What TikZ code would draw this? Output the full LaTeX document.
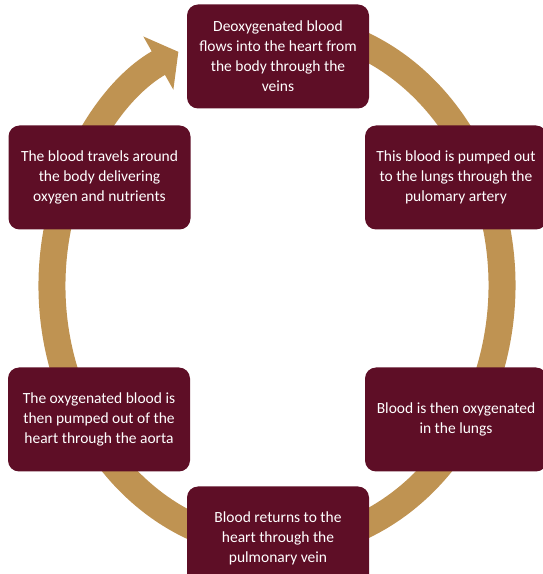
\documentclass[tikz,border=0pt]{standalone}
\usepackage{fontspec}
\setmainfont{Carlito}
\usetikzlibrary{arrows.meta}
\definecolor{maroon}{RGB}{94,14,38}
\definecolor{gold}{RGB}{191,147,82}

\begin{document}
\begin{tikzpicture}[x=1pt,y=1pt,
	stage/.style={rectangle,rounded corners=11pt,fill=maroon,text=white,minimum width=182pt,minimum height=104pt,inner sep=0pt,align=center,font=\fontsize{15.5}{20}\selectfont}]
		\useasboundingbox (0,0) rectangle (542,574);
		\coordinate (ring) at (277,288.5);
		\draw[gold,line width=27pt,-{Triangle[width=60pt,length=23pt]}] (ring) ++(80:225 and 260) arc[start angle=80,end angle=-244,x radius=225,y radius=260];
		\node[stage] (veins) at (278,517.5) {Deoxygenated blood\\flows into the heart from\\the body through the\\veins};
		\node[stage] (artery) at (456,396.5) {This blood is pumped out\\to the lungs through the\\pulomary artery};
		\node[stage] (lungs) at (456,154.5) {Blood is then oxygenated\\in the lungs};
		\node[stage] (return) at (278,35.5) {Blood returns to the\\heart through the\\pulmonary vein};
		\node[stage] (aorta) at (99,154.5) {The oxygenated blood is\\then pumped out of the\\heart through the aorta};
		\node[stage] (body) at (99.5,396.5) {The blood travels around\\the body delivering\\oxygen and nutrients};
		\end{tikzpicture}
\end{document}
